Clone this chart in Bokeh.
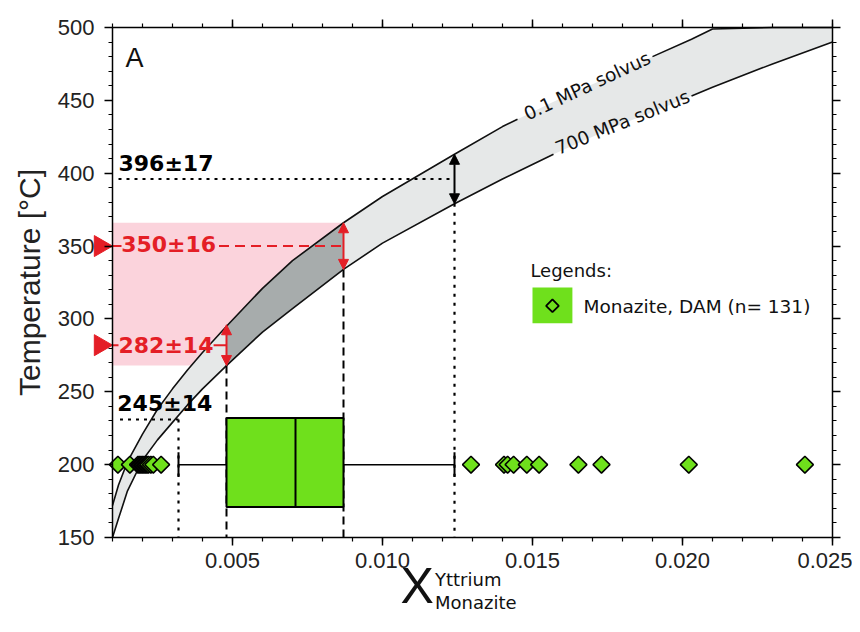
import math
from bokeh.plotting import figure
from bokeh.models import (Range1d, LinearAxis, SingleIntervalTicker, PrintfTickFormatter,
                          Label, Arrow, NormalHead)
from bokeh.embed import file_html
from bokeh.resources import INLINE

# ---------------- data ----------------
X_CURVE = [0.0010, 0.0012, 0.0015, 0.0020, 0.0025, 0.0030, 0.0035, 0.0040, 0.0048,
           0.0060, 0.0070, 0.0087, 0.0100, 0.0124, 0.0140, 0.0145, 0.0157, 0.0170,
           0.0180, 0.0190, 0.0203, 0.0210, 0.0230, 0.0250]
T_01MPA = [172, 186, 202, 221, 238, 252, 265, 277, 295, 321, 340, 366, 384, 413,
           432, 437, 449, 461, 470, 480, 492, 499, 517, 535]
T_700MPA = [148, 163, 182, 203, 217, 229, 241, 252, 268, 291, 307, 334, 352, 379,
            396, 401, 413, 425, 434, 442, 453, 459, 475, 490]

BOX_LO, BOX_Q1, BOX_MED, BOX_Q3, BOX_HI = 0.0032, 0.0048, 0.0071, 0.0087, 0.0124

DIAMOND_X = [0.00118, 0.00158, 0.00185, 0.00190, 0.00195, 0.00200, 0.00205, 0.00210,
             0.00215, 0.00220, 0.00228, 0.00236, 0.00262,
             0.01295, 0.01405, 0.01417, 0.01437, 0.01481, 0.01522, 0.01653, 0.01730,
             0.02021, 0.02408]

EST_T = [396, 350, 282, 245]
EST_ERR = [17, 16, 14, 14]
EST_X = [0.0124, 0.0087, 0.0048, 0.0032]
EST_TEXT = [f"{t}\u00b1{e}" for t, e in zip(EST_T, EST_ERR)]

X0, X1 = 0.001, 0.025       # axis extent
Y0, Y1 = 150, 500
X_TICK_INTERVAL = 0.005
Y_TICK_INTERVAL = 50

# ---------------- layout / style ----------------
W, H = 852, 624
FRAME_L, FRAME_R, FRAME_T, FRAME_B = 112, 832, 27, 537   # axis box, canvas pixels
SX = (FRAME_R - FRAME_L) / (X1 - X0)
SY = (FRAME_B - FRAME_T) / (Y1 - Y0)

RED = "#e41e26"
GREEN = "#6fe01c"
LIGHT_GRAY = "#e6e8e8"
DARK_GRAY = "#a7acac"
PINK = "#fbd3dc"
NUM_FONT = "DejaVu Sans"
AX_FONT = "Liberation Sans"
INK = "#111111"

# the drawing area covers the whole canvas; the axes are drawn at fixed locations
p = figure(width=W, height=H,
           x_range=Range1d(X0 - FRAME_L / SX, X1 + (W - FRAME_R) / SX),
           y_range=Range1d(Y0 - (H - FRAME_B) / SY, Y1 + FRAME_T / SY),
           x_axis_location=None, y_axis_location=None,
           output_backend="svg", toolbar_location=None,
           min_border_left=0, min_border_right=0, min_border_top=0, min_border_bottom=0)
p.grid.grid_line_color = None
p.outline_line_color = None
p.background_fill_color = "white"
p.border_fill_color = "white"


def make_axis(side, loc, bounds, interval, labels):
    ax = LinearAxis(fixed_location=loc, bounds=bounds,
                    ticker=SingleIntervalTicker(interval=interval, num_minor_ticks=5))
    ax.axis_line_color = "black"
    ax.axis_line_width = 1.5
    ax.major_tick_line_color = "black"
    ax.major_tick_line_width = 1.5
    ax.minor_tick_line_color = "black"
    ax.minor_tick_line_width = 1.2
    ax.major_tick_out = 8
    ax.major_tick_in = 0
    ax.minor_tick_out = 4
    ax.minor_tick_in = 0
    if labels:
        ax.major_label_text_font = AX_FONT
        ax.major_label_text_font_size = "22px"
        ax.major_label_text_color = "#222222"
    else:
        ax.major_label_text_font_size = "1px"
        ax.major_label_text_color = None
        ax.major_label_standoff = 0
    p.add_layout(ax, side)
    return ax


xa = make_axis("below", Y0, (X0, X1), X_TICK_INTERVAL, True)
xa.formatter = PrintfTickFormatter(format="%.3f")
xa.major_label_standoff = 7

ya = make_axis("left", X0, (Y0, Y1), Y_TICK_INTERVAL, True)
ya.major_label_standoff = 10
ya.axis_label = "Temperature [\u00b0C]"
ya.axis_label_text_font = AX_FONT
ya.axis_label_text_font_size = "30px"
ya.axis_label_text_font_style = "normal"
ya.axis_label_text_color = "#222222"
ya.axis_label_standoff = 9

make_axis("above", Y1, (X0, X1), X_TICK_INTERVAL, False)
make_axis("right", X1, (Y0, Y1), Y_TICK_INTERVAL, False)

# curves limited to the axis box
UP_DRAW = [min(t, Y1) for t in T_01MPA]
LO_DRAW = [max(t, Y0) for t in T_700MPA]

# ---------------- regions ----------------
pink_bottom = EST_T[2] - EST_ERR[2]
pink_top = EST_T[1] + EST_ERR[1]
p.quad(left=[X0], right=[EST_X[1]], bottom=[pink_bottom], top=[pink_top],
       fill_color=PINK, line_color=None)
# area below the 700 MPa solvus is white
p.varea(x=X_CURVE, y1=[Y0] * len(X_CURVE), y2=LO_DRAW, fill_color="white")
# solvus band
p.varea(x=X_CURVE, y1=LO_DRAW, y2=UP_DRAW, fill_color=LIGHT_GRAY)
i0 = X_CURVE.index(BOX_Q1)
i1 = X_CURVE.index(BOX_Q3) + 1
p.varea(x=X_CURVE[i0:i1], y1=LO_DRAW[i0:i1], y2=UP_DRAW[i0:i1], fill_color=DARK_GRAY)

# solvus curves (with gaps for the labels)
ua, ub = X_CURVE.index(0.0145) + 1, X_CURVE.index(0.0190)
la, lb = X_CURVE.index(0.0157) + 1, X_CURVE.index(0.0203)
for xs, ys in [(X_CURVE[:ua], UP_DRAW[:ua]), (X_CURVE[ub:], UP_DRAW[ub:]),
               (X_CURVE[:la], LO_DRAW[:la]), (X_CURVE[lb:], LO_DRAW[lb:])]:
    p.line(xs, ys, line_color=INK, line_width=1.6)

# ---------------- guide lines ----------------
# 396 +- 17 (dotted)
p.line([0.0012, EST_X[0]], [EST_T[0], EST_T[0]], line_color="black", line_width=2, line_dash="3 5")
p.line([EST_X[0], EST_X[0]], [EST_T[0] - EST_ERR[0], Y0], line_color="black", line_width=2.2, line_dash="3 6")
# 245 +- 14 (dotted)
p.line([0.00125, EST_X[3]], [EST_T[3] - EST_ERR[3], EST_T[3] - EST_ERR[3]], line_color="black", line_width=2, line_dash="3 5")
p.line([EST_X[3], EST_X[3]], [EST_T[3] - EST_ERR[3], Y0], line_color="black", line_width=2.2, line_dash="3 6")
# 350 and 282 (dashed verticals)
for k in (1, 2):
    p.line([EST_X[k], EST_X[k]], [EST_T[k] - EST_ERR[k], Y0], line_color="black", line_width=2, line_dash="8 5")
# red connectors
p.line([X0, 0.0013], [EST_T[1], EST_T[1]], line_color=RED, line_width=2)
p.line([0.00455, EST_X[1]], [EST_T[1], EST_T[1]], line_color=RED, line_width=2, line_dash="10 6")
p.line([X0, 0.0012], [EST_T[2], EST_T[2]], line_color=RED, line_width=2)
p.line([0.00437, EST_X[2]], [EST_T[2], EST_T[2]], line_color=RED, line_width=2)

# red triangles pointing at the temperature axis
TRI_SIZE = 21
tri_x = X0 - (TRI_SIZE / math.sqrt(3)) / SX
p.scatter(x=[tri_x, tri_x], y=[EST_T[1], EST_T[2]], marker="triangle", angle=-math.pi / 2,
          size=TRI_SIZE, fill_color=RED, line_color=RED)

# ---------------- box plot ----------------
BOX_BOTTOM, BOX_TOP, WHISK_T, CAP = 171, 232, 200, 8.5
p.segment(x0=[BOX_LO, BOX_Q3], y0=[WHISK_T, WHISK_T], x1=[BOX_Q1, BOX_HI], y1=[WHISK_T, WHISK_T],
          line_color="black", line_width=1.5)
p.segment(x0=[BOX_LO, BOX_HI], y0=[WHISK_T - CAP] * 2, x1=[BOX_LO, BOX_HI], y1=[WHISK_T + CAP] * 2,
          line_color="black", line_width=2)
p.quad(left=[BOX_Q1], right=[BOX_Q3], bottom=[BOX_BOTTOM], top=[BOX_TOP],
       fill_color=GREEN, line_color="black", line_width=2)
p.segment(x0=[BOX_MED], y0=[BOX_BOTTOM], x1=[BOX_MED], y1=[BOX_TOP], line_color="black", line_width=2)

p.scatter(x=DIAMOND_X, y=[WHISK_T] * len(DIAMOND_X), marker="square", angle=math.pi / 4,
          size=12, fill_color=GREEN, line_color="black", line_width=1.5)

# ---------------- arrows ----------------
for k, col in [(0, "black"), (1, RED), (2, RED)]:
    p.add_layout(Arrow(start=NormalHead(size=10, fill_color=col, line_color=col),
                       end=NormalHead(size=10, fill_color=col, line_color=col),
                       x_start=EST_X[k], y_start=EST_T[k] - EST_ERR[k],
                       x_end=EST_X[k], y_end=EST_T[k] + EST_ERR[k],
                       line_color=col, line_width=2))

# ---------------- texts ----------------
num_pos = [(0.0012, 407, "black"), (0.00129, 351, RED), (0.0012, 282, RED), (0.00116, 242, "black")]
for (x, y, c), txt in zip(num_pos, EST_TEXT):
    p.add_layout(Label(x=x, y=y, text=txt, text_font=NUM_FONT, text_font_style="bold",
                       text_font_size="22px", text_color=c, text_baseline="alphabetic"))

p.add_layout(Label(x=0.00143, y=479, text="A", text_font=AX_FONT, text_font_size="27px",
                   text_color=INK, text_baseline="alphabetic"))

p.add_layout(Label(x=0.01682, y=460, text="0.1 MPa solvus", text_font=NUM_FONT,
                   text_font_size="18.5px", angle=math.radians(25), text_align="center",
                   text_baseline="middle", text_color=INK))
p.add_layout(Label(x=0.0180, y=435, text="700 MPa solvus", text_font=NUM_FONT,
                   text_font_size="18.5px", angle=math.radians(22), text_align="center",
                   text_baseline="middle", text_color=INK))

# legend
p.add_layout(Label(x=0.01493, y=333, text="Legends:", text_font=NUM_FONT, text_font_size="18px",
                   text_baseline="middle", text_color=INK))
p.quad(left=[0.0150], right=[0.01633], bottom=[297], top=[321.5], fill_color=GREEN, line_color=None)
p.scatter(x=[0.015665], y=[309], marker="square", angle=math.pi / 4, size=9,
          fill_color=GREEN, line_color="black", line_width=1.8)
p.add_layout(Label(x=0.0167, y=308.5, text="Monazite, DAM (n= 131)", text_font=NUM_FONT,
                   text_font_size="18.5px", text_baseline="middle", text_color=INK))

# x axis title: X with superscript / subscript
p.add_layout(Label(x=0.0106, y=116.4, text="X", text_font=AX_FONT, text_font_size="50px",
                   text_baseline="alphabetic", text_color=INK))
p.add_layout(Label(x=0.01175, y=121.3, text="Yttrium", text_font=NUM_FONT, text_font_size="18px",
                   text_baseline="alphabetic", text_color=INK))
p.add_layout(Label(x=0.01175, y=105.5, text="Monazite", text_font=NUM_FONT, text_font_size="18px",
                   text_baseline="alphabetic", text_color=INK))

open("out.html", "w").write(file_html(p, INLINE))
